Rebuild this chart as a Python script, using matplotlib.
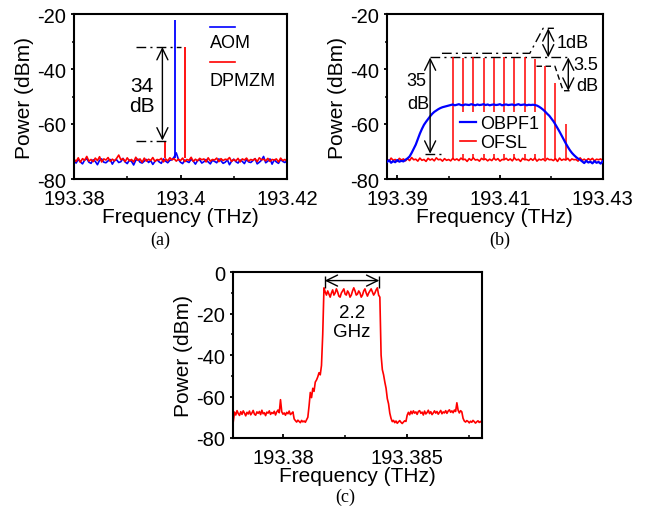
"""
Optical spectra of the frequency-shifted loop: (a) AOM / DPMZM shift,
(b) OBPF1 passband with the OFSL comb, (c) flat-top spectrum.
"""

import numpy as np
import matplotlib.pyplot as plt
from matplotlib.ticker import FixedLocator

plt.rcParams['font.family'] = ['Liberation Sans', 'DejaVu Sans']

# ---------------- (a) AOM vs DPMZM ----------------
a_freq_range = (193.38, 193.42)
aom_floor = [
    -73.5, -74.2, -72.9, -73.8, -74.5, -73.1, -72.6, -73.9, -74.3, -73.0,
    -73.6, -74.8, -73.2, -72.7, -73.9, -74.1, -73.4, -72.9, -74.6, -73.3,
    -73.0, -74.0, -73.7, -72.5, -73.8, -74.4, -73.1, -73.6, -74.9, -73.2,
    -72.8, -73.9, -74.2, -73.5, -72.9, -74.0, -73.3, -74.7, -73.6, -73.0,
    -73.8, -74.3, -72.7, -73.5, -74.1, -73.2, -73.0, -72.0, -70.5, -72.8,
    -73.9, -74.4, -73.1, -73.6, -74.0, -72.8, -73.5, -74.6, -73.3, -73.0,
    -74.2, -73.7, -72.9, -73.8, -74.5, -73.2, -73.6, -74.1, -72.7, -73.4,
    -74.3, -73.9, -73.0, -74.8, -73.5, -72.8, -73.7, -74.2, -73.1, -73.6,
    -74.4, -72.9, -73.8, -74.0, -73.3, -72.6, -74.5, -73.9, -73.2, -71.8,
    -74.1, -73.5, -72.7, -74.6, -73.0, -73.8, -74.3, -72.9, -73.6, -74.0,
    -73.4,
]
dpmzm_floor = [
    -72.8, -73.6, -72.3, -73.9, -72.6, -73.2, -71.8, -73.5, -72.9, -73.7,
    -72.4, -73.3, -71.9, -73.8, -72.7, -73.1, -72.2, -73.6, -72.8, -73.4,
    -72.5, -71.3, -73.0, -72.6, -73.7, -72.3, -73.4, -72.9, -73.8, -72.1,
    -73.2, -72.7, -73.9, -72.4, -73.5, -72.8, -73.3, -72.2, -73.6, -72.9,
    -73.1, -72.5, -73.8, -72.7, -73.4, -72.3, -73.0, -72.6, -73.5, -72.8,
    -73.3, -72.4, -73.7, -72.9, -73.2, -72.1, -73.6, -72.8, -73.4, -72.5,
    -73.0, -72.7, -73.8, -72.3, -73.5, -72.9, -73.1, -72.4, -73.7, -72.6,
    -73.3, -72.8, -73.0, -72.2, -73.6, -72.9, -73.4, -72.5, -73.8, -72.7,
    -73.1, -72.4, -73.5, -72.9, -73.2, -72.6, -73.7, -72.3, -73.0, -72.8,
    -73.4, -72.5, -73.6, -72.9, -73.1, -72.7, -73.8, -72.4, -73.3, -72.9,
    -73.5,
]
aom_peak_freq = [193.3990]
aom_peak_power = [-22.0]
dpmzm_peak_freq = [193.3970, 193.4008]
dpmzm_peak_power = [-66.0, -32.0]
a_xticks = [193.38, 193.40, 193.42]
a_xticklabels = ['193.38', '193.4', '193.42']
a_xminor = [193.39, 193.41]

# ---------------- (b) OBPF1 and OFSL comb ----------------
b_freq_range = (193.388, 193.43)
obpf1_trace = [
    -73.8, -73.2, -74.1, -73.5, -73.9, -73.1, -73.7, -73.4, -73.6, -73.0,
    -72.5, -71.8, -70.5, -69.0, -67.5, -65.5, -63.5, -61.8, -60.3, -59.2,
    -58.2, -57.2, -56.3, -55.6, -55.1, -54.6, -54.2, -53.9, -53.7, -53.5,
    -53.3, -53.1, -52.9, -53.2, -53.0, -52.8, -53.1, -53.2, -52.9, -53.0,
    -53.1, -52.8, -53.0, -53.2, -52.9, -53.1, -53.0, -52.8, -53.1, -52.9,
    -53.2, -53.0, -52.9, -53.1, -53.0, -52.8, -53.2, -53.0, -52.9, -53.1,
    -53.0, -52.9, -53.2, -53.0, -52.8, -53.1, -53.0, -52.9, -53.2, -53.0,
    -53.1, -53.0, -53.1, -53.3, -53.7, -54.2, -54.8, -55.5, -56.3, -57.0,
    -58.0, -59.0, -60.2, -61.5, -62.8, -64.2, -65.6, -67.0, -68.3, -69.5,
    -70.5, -71.3, -72.0, -72.6, -73.0, -73.6, -74.2, -73.4, -74.0, -73.7,
    -74.3, -73.5, -74.1, -73.8, -74.4, -73.6,
]
ofsl_floor = [
    -72.8, -73.5, -72.4, -73.2, -72.9, -73.6, -72.5, -73.1, -72.7, -73.4,
    -72.6, -73.3, -72.2, -73.0, -72.8, -73.5, -72.4, -73.2, -72.9, -73.6,
    -72.5, -73.1, -72.7, -73.4, -72.3, -73.0, -72.8, -73.5, -72.6, -73.2,
    -72.9, -73.4, -72.5, -73.1, -72.7, -73.3, -72.4, -73.0, -72.8, -73.6,
    -72.6, -73.2, -72.3, -73.1, -72.9, -73.5, -72.5, -73.0, -72.7, -73.4,
    -72.8, -73.3, -72.4, -73.1, -72.6, -73.5, -72.9, -73.0, -72.5, -73.2,
    -72.7, -73.4, -72.3, -73.1, -72.8, -73.6, -72.5, -73.0, -72.9, -73.3,
    -72.6, -73.2, -72.4, -73.5, -72.8, -73.1, -72.7, -73.4, -72.5, -73.0,
    -72.9, -73.3, -72.6, -73.6, -72.4, -73.2, -72.8, -73.1, -72.5, -73.4,
    -72.7, -73.0, -72.9, -73.5, -72.3, -73.2, -72.8, -73.3, -72.6, -73.1,
    -72.5, -73.4, -72.8, -73.0, -72.7, -73.3,
]
comb_freq = [193.4008, 193.4028, 193.4048, 193.4068, 193.4088, 193.4108,
             193.4128, 193.4148, 193.4168, 193.4188, 193.4208, 193.4228]
comb_power = [-35.6, -36.0, -35.8, -36.1, -35.9, -35.7,
              -36.0, -35.8, -36.2, -39.0, -45.0, -60.0]
b_xticks = [193.39, 193.41, 193.43]
b_xticklabels = ['193.39', '193.41', '193.43']
b_xminor = [193.40, 193.42]

# ---------------- (c) flat-top spectrum ----------------
c_freq_range = (193.378, 193.388)
flat_top_trace = [
    -72.0,
    -67.5, -68.9, -66.8, -68.2, -69.1, -67.3, -68.6, -66.9, -68.0, -69.3,
    -67.6, -68.4, -67.0, -68.8, -67.9, -66.7, -68.5, -69.0, -67.4, -68.1,
    -67.2, -68.7, -66.6, -68.3, -67.8, -69.2, -67.5, -68.0, -66.9, -68.6,
    -67.7, -68.2, -67.1, -68.9, -67.4, -66.5, -67.8, -61.5,
    -67.3, -68.5, -67.9, -69.0, -67.6, -68.3, -67.0, -68.7, -68.1, -67.4,
    -70.8, -71.6, -72.3, -71.4, -72.0, -72.6, -71.5, -72.2, -71.8, -72.4, -71.2,
    -70.0, -64.5, -58.0, -60.5, -56.0, -57.5, -53.0, -52.0, -50.5, -48.5,
    -49.5, -45.0, -30.0,
    -7.5, -9.5, -11.0, -9.0, -10.5, -12.0, -10.0, -8.5, -11.0, -10.0,
    -8.0, -9.5, -11.5, -12.0, -10.0, -9.0, -8.0, -10.5, -11.0, -9.0,
    -10.0, -12.0, -11.0, -9.0, -7.5, -9.0, -11.0, -10.5, -9.0, -10.0,
    -12.0, -11.0, -9.0, -8.0, -10.0, -11.5, -10.0, -9.0, -8.0, -9.5,
    -11.0, -10.0, -8.5, -7.5, -11.0,
    -12.0, -40.0, -47.0, -49.5, -53.0, -56.0, -61.0, -63.5, -68.0, -70.5,
    -72.1, -71.5, -72.6, -71.8, -72.9, -72.2, -71.6, -72.4, -73.0, -72.3,
    -71.7, -72.0,
    -69.0,
    -67.6, -68.8, -67.1, -68.3, -66.9, -68.0, -67.4, -68.6, -67.2, -66.8,
    -68.1, -67.5, -68.9, -67.0, -68.4, -67.7, -66.6, -68.2, -67.3, -68.7,
    -67.9, -66.9, -68.0, -67.2, -68.5, -67.6, -66.7, -68.3, -67.4, -67.9,
    -66.8, -68.1, -67.0, -66.4, -67.6, -66.9, -67.8, -66.5, -67.2, -63.0,
    -66.6, -67.9, -66.8, -67.4,
    -70.5, -71.8, -72.3, -71.6, -72.0, -72.7, -71.9, -72.4, -71.5, -72.1,
    -72.8, -72.2, -71.7, -72.5, -72.0, -72.6,
]
flat_top_start = 193.38168
flat_top_width = 0.0022  # THz, i.e. 2.2 GHz
c_xticks = [193.38, 193.385]
c_xticklabels = ['193.38', '193.385']
c_xminor = [193.3825, 193.3875]

dash_dot = (0, (7, 3, 1.5, 3))
arrow_kw = dict(arrowstyle='<->,head_length=0.45,head_width=0.22',
                color='black', lw=1.0, shrinkA=0, shrinkB=0, mutation_scale=18)


def style_axes(ax, xlim, xticks, xticklabels, xminor, ylim, yticks):
    ax.set_xlim(*xlim)
    ax.set_ylim(*ylim)
    ax.set_xticks(xticks)
    ax.set_xticklabels(xticklabels)
    ax.xaxis.set_minor_locator(FixedLocator(xminor))
    ax.set_yticks(yticks)
    ax.set_yticklabels([str(v) for v in yticks])
    ax.yaxis.set_minor_locator(FixedLocator([v + 10 for v in yticks[:-1]]))
    for sp in ax.spines.values():
        sp.set_linewidth(1.5)
    # x ticks point into the frame, y ticks point out of it
    ax.tick_params(axis='x', which='major', direction='in', length=2.6,
                   width=1.3, labelsize=14.5, pad=7.0)
    ax.tick_params(axis='x', which='minor', direction='in', length=2.0, width=1.1)
    ax.tick_params(axis='y', which='major', direction='out', length=2.2,
                   width=1.3, labelsize=14.5, pad=3.8)
    ax.tick_params(axis='y', which='minor', direction='out', length=1.8, width=1.1)
    ax.set_xlabel('Frequency (THz)', fontsize=15, labelpad=-0.2)
    ax.set_ylabel('Power (dBm)', fontsize=15, labelpad=2)


fig = plt.figure(figsize=(6.47, 5.10), dpi=100)
ax_a = fig.add_axes([74 / 647, 1 - 180 / 510, 213 / 647, 165 / 510])
ax_b = fig.add_axes([387 / 647, 1 - 180 / 510, 215.7 / 647, 165 / 510])
ax_c = fig.add_axes([233.3 / 647, 1 - 439 / 510, 248.4 / 647, 165.7 / 510])

# ---- panel (a)
a_freq = np.linspace(*a_freq_range, len(aom_floor))
ax_a.plot(a_freq, aom_floor, color='blue', lw=1.2)
ax_a.plot(a_freq, dpmzm_floor, color='red', lw=1.2)
ax_a.vlines(aom_peak_freq, -72.5, aom_peak_power, color='blue', lw=1.3)
ax_a.vlines(dpmzm_peak_freq, -72.5, dpmzm_peak_power, color='red', lw=1.3)
style_axes(ax_a, a_freq_range, a_xticks, a_xticklabels, a_xminor,
           (-80, -20), [-20, -40, -60, -80])

top_a, bot_a = dpmzm_peak_power[1], dpmzm_peak_power[0]
ax_a.plot([193.3916, 193.4001], [top_a, top_a], color='black', lw=1, ls=dash_dot)
ax_a.plot([193.3916, 193.3978], [bot_a, bot_a], color='black', lw=1, ls=dash_dot)
ax_a.annotate('', xy=(193.3966, top_a), xytext=(193.3966, bot_a), arrowprops=arrow_kw)
ax_a.text(193.3928, -49.5, '34\ndB', fontsize=15, ha='center', va='center',
          linespacing=1.05)

# legend keys drawn above their labels
for y_key, y_txt, col, name in [(-24.8, -30.3, 'blue', 'AOM'),
                                (-37.6, -44.2, 'red', 'DPMZM')]:
    ax_a.plot([193.4055, 193.4102], [y_key, y_key], color=col, lw=1.2)
    ax_a.text(193.4055, y_txt, name, fontsize=13, va='center', ha='left')

# ---- panel (b)
b_freq = np.linspace(*b_freq_range, len(obpf1_trace))
ax_b.plot(b_freq, ofsl_floor, color='red', lw=1.2, label='OFSL', zorder=2)
ax_b.plot(b_freq, obpf1_trace, color='blue', lw=1.6, label='OBPF1', zorder=3)
ax_b.vlines(comb_freq, -72.8, comb_power, color='red', lw=1.1, zorder=2.5)
style_axes(ax_b, b_freq_range, b_xticks, b_xticklabels, b_xminor,
           (-80, -20), [-20, -40, -60, -80])

handles, labels = ax_b.get_legend_handles_labels()
leg = ax_b.legend(handles[::-1], labels[::-1], loc='upper left',
                  bbox_to_anchor=(193.4016, -55.8), bbox_transform=ax_b.transData,
                  fontsize=13, handlelength=0.9, handletextpad=0.25,
                  labelspacing=0.12, borderpad=0.15, borderaxespad=0,
                  frameon=True, fancybox=False, framealpha=1,
                  facecolor='white', edgecolor='none')
leg.set_zorder(4)

comb_top = -35.8
comb_bottom = comb_top - 35
ax_b.plot([193.3964, 193.4236], [comb_top, comb_top], color='black', lw=1, ls=dash_dot)
ax_b.plot([193.3954, 193.3986], [comb_bottom, comb_bottom], color='black', lw=1, ls=dash_dot)
ax_b.annotate('', xy=(193.3964, comb_top), xytext=(193.3964, comb_bottom),
              arrowprops=arrow_kw)
ax_b.text(193.3938, -44.2, '35', fontsize=13, ha='center', va='center')
ax_b.text(193.3940, -52.7, 'dB', fontsize=13, ha='center', va='center')

ax_b.plot([193.3987, 193.4158, 193.4184, 193.4205], [-34.3, -34.3, -25.2, -25.2],
          color='black', lw=1, ls=dash_dot)
ax_b.annotate('', xy=(193.4194, -25.2), xytext=(193.4194, comb_top), arrowprops=arrow_kw)
ax_b.text(193.4210, -30.3, '1dB', fontsize=13, ha='left', va='center')

ax_b.plot([193.4171, 193.4207, 193.4223, 193.4240], [-39.0, -39.0, -47.9, -47.9],
          color='black', lw=1, ls=(0, (4, 2.5)))
ax_b.annotate('', xy=(193.4233, comb_top), xytext=(193.4233, -47.9), arrowprops=arrow_kw)
ax_b.text(193.4243, -38.2, '3.5', fontsize=13, ha='left', va='center')
ax_b.text(193.4249, -46.0, 'dB', fontsize=13, ha='left', va='center')

# ---- panel (c)
c_freq = np.linspace(*c_freq_range, len(flat_top_trace))
ax_c.plot(c_freq, flat_top_trace, color='red', lw=1.2)
style_axes(ax_c, c_freq_range, c_xticks, c_xticklabels, c_xminor,
           (-80, 0), [0, -20, -40, -60, -80])

bw_left = flat_top_start
bw_right = flat_top_start + flat_top_width
ax_c.vlines([bw_left, bw_right], -7.5, -2.0, color='black', lw=1)
ax_c.annotate('', xy=(bw_left, -4.0), xytext=(bw_right, -4.0), arrowprops=arrow_kw)
ax_c.text((bw_left + bw_right) / 2, -19.2, '2.2', fontsize=13.5, ha='center', va='center')
ax_c.text((bw_left + bw_right) / 2, -28.8, 'GHz', fontsize=13.5, ha='center', va='center')

# sub-figure captions
for x, y, tag in [(160, 240, '(a)'), (500, 240, '(b)'), (345, 497, '(c)')]:
    fig.text(x / 647, 1 - y / 510, tag, fontsize=13, ha='center', va='center',
             family='Liberation Serif')

fig.savefig('out.png', dpi=100)
